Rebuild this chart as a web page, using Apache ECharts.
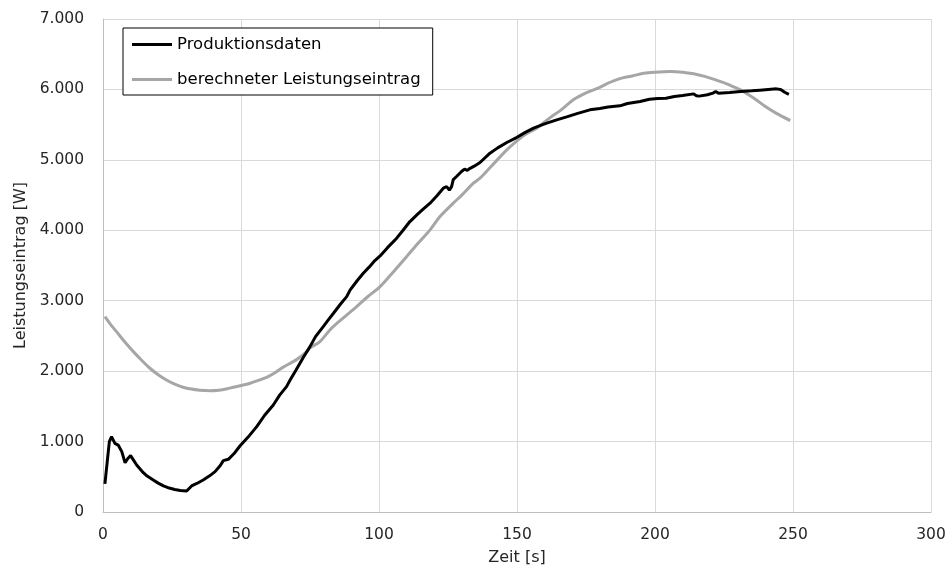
<!DOCTYPE html>
<html>
<head>
<meta charset="utf-8">
<script src="https://cdn.jsdelivr.net/npm/echarts@6/dist/echarts.min.js"></script>
<style>html,body{margin:0;padding:0;background:#fff}#c{width:952px;height:577px}</style>
</head>
<body>
<div id="c"></div>
<script>
const seriesNames = ['Produktionsdaten', 'berechneter Leistungseintrag'];
const xTicks = [0, 50, 100, 150, 200, 250, 300];
const yTicks = [0, 1000, 2000, 3000, 4000, 5000, 6000, 7000];

const timeProd = [0.7,1.5,2.3,3.1,4.3,5.5,6.8,8.0,9.0,10.0,11.0,12.2,14.6,16,18.2,20,21.9,24,26,28,30.3,31,32.1,34,36.3,38.5,40.6,42.5,43.6,45.4,47.5,49.6,52.5,55.7,58.5,61.7,64,66.5,67.8,70,72.5,75,77,79.8,81.5,83.5,86,88.3,89.5,90.1,92,94.3,96.5,98.5,100.4,103,106.4,108.5,111.2,114,116,118.5,121,123.3,124.5,125.5,126.3,126.9,128,129.9,131,132,133,134.5,136.6,140.2,143,146.3,150,153,156,160,164.4,168,172,176.4,180,183,187.3,190,194.6,198,201,204,207,210,214,215,216,219,221,222,223,227,231,235,238,241,244,245.5,247,248.5];
const valProd = [400,700,1000,1070,975,950,857,700,760,800,740,668,558,510,455,410,370,340,320,305,298,320,370,405,455,510,573,660,729,748,830,937,1060,1212,1370,1520,1660,1780,1875,2020,2190,2348,2490,2632,2720,2822,2950,3058,3150,3177,3280,3390,3480,3570,3636,3750,3888,3990,4124,4230,4300,4385,4490,4598,4620,4570,4620,4720,4760,4834,4868,4850,4880,4910,4962,5095,5170,5246,5320,5390,5450,5510,5568,5610,5660,5710,5730,5750,5767,5800,5828,5860,5870,5876,5900,5915,5937,5910,5905,5925,5947,5970,5945,5955,5970,5980,5990,6000,6008,6000,5960,5930];

const timeCalc = [0.7,3,4.9,8,11,14,17,20,23,26,29,32,35,38.8,42,45,47.2,50,53.3,56,59.3,62,65,70,73.8,75,78.6,82.2,86,91.9,96,100.4,105,110,114,118.5,122.1,126.9,130,134.2,136.6,140,146.3,150,153,157.1,162,166,170.4,175,180,182.5,187,192,196,200,205.4,210,214,218,222,226,230,232,236,240,244,249];
const valCalc = [2774,2650,2561,2410,2277,2155,2041,1950,1875,1815,1771,1745,1730,1723,1730,1750,1771,1795,1828,1865,1913,1970,2050,2160,2277,2330,2420,2585,2720,2916,3060,3200,3400,3626,3810,4006,4195,4385,4500,4669,4740,4880,5142,5270,5360,5450,5600,5710,5852,5950,6030,6080,6150,6193,6230,6245,6255,6245,6222,6185,6136,6080,6010,5970,5870,5757,5660,5558];

const FONT = 'DejaVu Sans';
const TXT = '#262626';
const chart = echarts.init(document.getElementById('c'), null, {renderer: 'canvas'});
const fmt = v => v === 0 ? '0' : (Math.floor(v / 1000) + '.' + String(v % 1000).padStart(3, '0'));

chart.setOption({
  animation: false,
  backgroundColor: '#fff',
  grid: {left: 103, right: 21, top: 19, bottom: 65, containLabel: false},
  legend: {
    orient: 'vertical',
    left: 123, top: 28,
    padding: [7, 12, 6, 9],
    icon: 'rect',
    itemWidth: 40, itemHeight: 3, itemGap: 16,
    borderColor: '#000', borderWidth: 1,
    backgroundColor: '#fff',
    data: seriesNames,
    textStyle: {fontFamily: FONT, fontSize: 16.5, color: '#000', lineHeight: 19},
    z: 10
  },
  xAxis: {
    type: 'value', min: xTicks[0], max: xTicks[xTicks.length - 1], interval: 50,
    name: 'Zeit [s]', nameLocation: 'middle', nameGap: 38,
    nameTextStyle: {fontFamily: FONT, fontSize: 16, color: TXT},
    axisLine: {show: true, lineStyle: {color: '#bfbfbf', width: 1}},
    axisTick: {show: false},
    axisLabel: {fontFamily: FONT, fontSize: 15.5, color: TXT, margin: 15},
    splitLine: {show: true, lineStyle: {color: '#d9d9d9', width: 1}}
  },
  yAxis: {
    type: 'value', min: yTicks[0], max: yTicks[yTicks.length - 1], interval: 1000,
    name: 'Leistungseintrag [W]', nameLocation: 'middle', nameGap: 73,
    nameTextStyle: {fontFamily: FONT, fontSize: 16, color: TXT},
    axisLine: {show: true, lineStyle: {color: '#bfbfbf', width: 1}},
    axisTick: {show: false},
    axisLabel: {fontFamily: FONT, fontSize: 15.5, color: TXT, margin: 19, formatter: fmt},
    splitLine: {show: true, lineStyle: {color: '#d9d9d9', width: 1}}
  },
  series: [
    {
      name: seriesNames[0], type: 'line', symbol: 'none', showSymbol: false,
      data: timeProd.map((t, i) => [t, valProd[i]]),
      lineStyle: {color: '#000', width: 3}, itemStyle: {color: '#000'}, z: 3
    },
    {
      name: seriesNames[1], type: 'line', symbol: 'none', showSymbol: false, smooth: 0.3,
      data: timeCalc.map((t, i) => [t, valCalc[i]]),
      lineStyle: {color: '#a6a6a6', width: 3}, itemStyle: {color: '#a6a6a6'}, z: 2
    }
  ]
});
</script>
</body>
</html>
